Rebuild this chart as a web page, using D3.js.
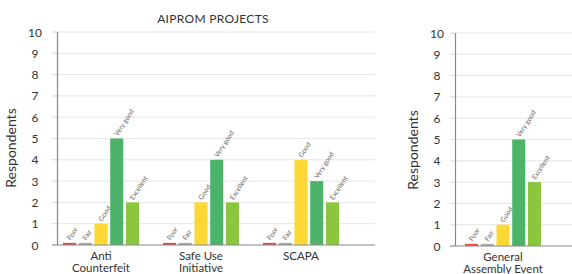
<!DOCTYPE html>
<html><head><meta charset="utf-8">
<script src="https://cdn.jsdelivr.net/npm/d3@7"></script>
<style>body{margin:0;background:#fff;} text{font-family:Lato,"Open Sans",sans-serif;}</style>
</head><body><svg id="c" width="572" height="274"></svg>
<script>
const ratings = ["Poor","Fair","Good","Very good","Excellent"];
const colors = ["#e04b3c","#a9aba9","#fdd835","#4db36a","#8cc63f"];
const projects = ["Anti Counterfeit","Safe Use Initiative","SCAPA"];
const projectLabels = [["Anti","Counterfeit"],["Safe Use","Initiative"],["SCAPA"]];
const projectValues = [[0.1,0.1,1,5,2],[0.1,0.1,2,4,2],[0.1,0.1,4,3,2]];
const events = ["General Assembly Event"];
const eventLabels = [["General","Assembly Event"]];
const eventValues = [[0.1,0.1,1,5,3]];
const yTicks = [0,1,2,3,4,5,6,7,8,9,10];
const title = "AIPROM PROJECTS";
const yTitle = "Respondents";

const svg = d3.select("#c");

function panel(cfg){
  const g = svg.append("g");
  const y = d3.scaleLinear().domain([0,10]).range([cfg.y0, cfg.y1]);
  const x0 = d3.scaleBand().domain(cfg.cats).range(cfg.xr);
  const x1 = d3.scaleBand().domain(ratings).range([-38,38]).paddingInner(0.17);
  g.selectAll("line.grid").data(yTicks.slice(1)).join("line")
    .attr("x1",cfg.gx0).attr("x2",cfg.gx1).attr("y1",d=>y(d)).attr("y2",d=>y(d))
    .attr("stroke","#e6e6e6").attr("stroke-width",1);
  g.selectAll("line.tk").data(yTicks).join("line")
    .attr("x1",cfg.ax-5).attr("x2",cfg.ax).attr("y1",d=>y(d)).attr("y2",d=>y(d))
    .attr("stroke","#e0e0e0");
  g.selectAll("text.tl").data(yTicks).join("text")
    .attr("x",cfg.tlx).attr("y",d=>y(d)+4.5).attr("text-anchor","middle")
    .attr("font-size",12).attr("fill","#333").text(d=>d);
  g.append("text").attr("transform",`translate(${cfg.ytx},${cfg.yty}) rotate(-90)`)
    .attr("text-anchor","middle").attr("font-size",14).attr("fill","#333").text(yTitle);
  cfg.cats.forEach((c,i)=>{
    const cx = x0(c)+x0.bandwidth()/2;
    const vals = cfg.vals[i];
    ratings.forEach((r,j)=>{
      const bx = cx + x1(r);
      g.append("rect").attr("x",bx).attr("y",y(vals[j])).attr("width",x1.bandwidth())
        .attr("height",y(0)-y(vals[j])).attr("fill",colors[j]);
      const tx = bx + x1.bandwidth()/2 + 1, ty = y(vals[j]) - 2;
      g.append("text").attr("transform",`translate(${tx},${ty}) rotate(-57)`)
        .attr("font-size",6.8).attr("fill","#666").text(r);
    });
    const lines = cfg.labels[i];
    lines.forEach((l,k)=>{
      g.append("text").attr("x",cx).attr("y",cfg.y0+14.5+k*12).attr("text-anchor","middle")
        .attr("font-size",11.5).attr("fill","#333").text(l);
    });
  });
  g.append("line").attr("x1",cfg.ax).attr("x2",cfg.ax).attr("y1",y(10)).attr("y2",y(0))
    .attr("stroke","#888").attr("stroke-width",1.2);
  g.append("line").attr("x1",cfg.gx0).attr("x2",cfg.gx1).attr("y1",y(0)).attr("y2",y(0))
    .attr("stroke","#888").attr("stroke-width",1.2);
}

panel({cats:projects, labels:projectLabels, vals:projectValues, y0:245, y1:32, xr:[51,351],
  ax:57.5, gx0:52, gx1:375, tlx:35, ytx:16, yty:148});
panel({cats:events, labels:eventLabels, vals:eventValues, y0:246, y1:33, xr:[453,553],
  ax:455.5, gx0:450, gx1:572, tlx:437, ytx:418, yty:150});

svg.append("text").attr("x",213).attr("y",23).attr("text-anchor","middle")
  .attr("font-size",12).attr("fill","#333").attr("letter-spacing",0.3).text(title);
</script></body></html>
